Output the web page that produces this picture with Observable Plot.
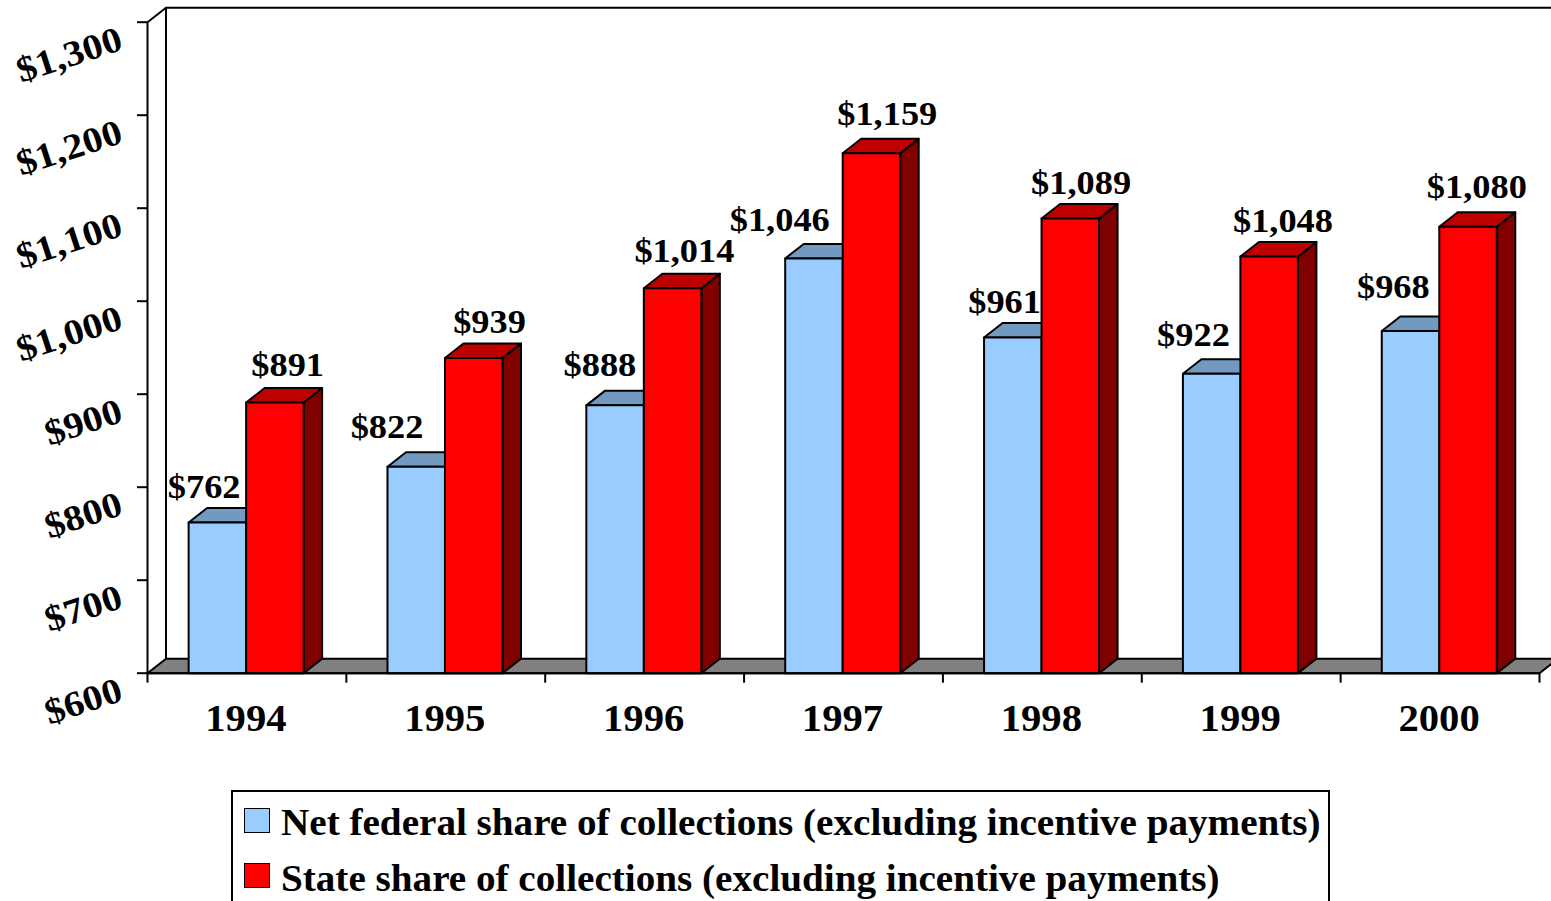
<!DOCTYPE html>
<html>
<head>
<meta charset="utf-8">
<script src="https://cdn.jsdelivr.net/npm/d3@7"></script>
<script src="https://cdn.jsdelivr.net/npm/@observablehq/plot@0.6"></script>
<style>
  html, body { margin: 0; padding: 0; background: #fff; overflow: hidden; width: 1551px; height: 901px; }
  #chart svg { display: block; }
  #legend {
    position: absolute; left: 231px; top: 790px; width: 1095px; height: 130px;
    border: 2px solid #000; box-sizing: content-box;
    font-family: "Liberation Serif", serif; font-weight: bold; color: #000;
  }
  .swatch { position: absolute; left: 11px; width: 24px; height: 23px; border: 1.5px solid #000; }
  .label { position: absolute; left: 48px; font-size: 38px; line-height: 40px; transform-origin: 0 50%; }
</style>
</head>
<body>
<div id="chart"></div>
<div id="legend"></div>
<script>
const years = [1994, 1995, 1996, 1997, 1998, 1999, 2000];
const federal = [762, 822, 888, 1046, 961, 922, 968];
const state = [891, 939, 1014, 1159, 1089, 1048, 1080];
const yTicks = [600, 700, 800, 900, 1000, 1100, 1200, 1300];
const boundaries = [1993.5, 1994.5, 1995.5, 1996.5, 1997.5, 1998.5, 1999.5, 2000.5];
const seriesNames = [
  "Net federal share of collections (excluding incentive payments)",
  "State share of collections (excluding incentive payments)"
];

// label nudges in screen pixels, separate from the values
const federalNudgeX = [-14, -30, -16, -35, -9, -19, -18];
const federalNudgeY = [25, 29, 29, 27, 24, 28, 33];
const stateNudgeX = [12, 15, 11, 15, 10, 13, 8];
const stateNudgeY = [27, 25, 26, 28, 24, 25, 29];

// one screen pixel in data units
const W = 1551, H = 790, ML = 147, MR = 12, MT = 21.7, MB = 117.3;
const unitX = 7 / (W - ML - MR), unitY = 700 / (H - MT - MB);
const depthX = 18.5 * unitX, depthY = 14.5 * unitY;
const barW = 57.5 * unitX, barShift = -0.8 * unitX;

const colors = {
  federal: {front: "#99CCFF", top: "#7299BF", side: "#4D6680"},
  state: {front: "#FF0000", top: "#BF0000", side: "#800000"},
  floor: "#808080"
};

const faces = [];
function face(id, fill, pts) {
  for (const [x, y] of [...pts, pts[0]]) faces.push({id, fill, x, y});
}
// floor
face("floor", colors.floor, [
  [1993.5, 600], [1993.5 + depthX, 600 + depthY],
  [2000.5 + depthX, 600 + depthY], [2000.5, 600]
]);
// bars
years.forEach((yr, i) => {
  const mid = yr + barShift;
  for (const [name, v, x0] of [["federal", federal[i], mid - barW], ["state", state[i], mid]]) {
    const c = colors[name], x1 = x0 + barW, key = name + yr;
    face(key + "side", c.side, [[x1, 600], [x1 + depthX, 600 + depthY], [x1 + depthX, v + depthY], [x1, v]]);
    face(key + "top", c.top, [[x0, v], [x0 + depthX, v + depthY], [x1 + depthX, v + depthY], [x1, v]]);
    face(key + "front", c.front, [[x0, 600], [x0, v], [x1, v], [x1, 600]]);
  }
});

const wall = [
  {x: 1993.5, y: 600}, {x: 1993.5, y: 1300},
  {x: 1993.5 + depthX, y: 1300 + depthY}, {x: 2000.5 + depthX, y: 1300 + depthY}
];
const backLeft = [{x: 1993.5 + depthX, y: 1300 + depthY}, {x: 1993.5 + depthX, y: 600 + depthY}];

const labels = years.flatMap((yr, i) => [
  {t: "$" + d3.format(",")(federal[i]), x: yr - barW / 2 + federalNudgeX[i] * unitX, y: federal[i] + federalNudgeY[i] * unitY},
  {t: "$" + d3.format(",")(state[i]), x: yr + barW / 2 + stateNudgeX[i] * unitX, y: state[i] + stateNudgeY[i] * unitY}
]);

const chart = Plot.plot({
  width: W, height: H,
  marginLeft: ML, marginRight: MR, marginTop: MT, marginBottom: MB,
  style: {fontFamily: "'Liberation Serif', serif", background: "#fff", color: "#000"},
  x: {type: "linear", domain: [1993.5, 2000.5], label: null},
  y: {domain: [600, 1300], label: null},
  marks: [
    Plot.line(backLeft, {x: "x", y: "y", stroke: "#000", strokeWidth: 2}),
    Plot.line(faces, {x: "x", y: "y", z: "id", fill: "fill", stroke: "#000", strokeWidth: 2, strokeLinejoin: "round"}),
    Plot.line(wall, {x: "x", y: "y", stroke: "#000", strokeWidth: 2}),
    Plot.ruleY([600], {stroke: "#000", strokeWidth: 2}),
    Plot.axisY({ticks: yTicks, anchor: "left", tickSize: 10, tickFormat: () => "", stroke: "#000", strokeWidth: 2, strokeOpacity: 1, label: null}),
    Plot.axisY({
      ticks: yTicks, anchor: "left", tickSize: 0, tickRotate: -18, tickPadding: 0,
      tickFormat: d => "$" + d3.format(",")(d),
      fontSize: 36, fontWeight: "bold", textAnchor: "end", lineAnchor: "bottom",
      fill: "#000", label: null, dx: -23, dy: 27
    }),
    Plot.axisX({ticks: boundaries, tickSize: 10, tickFormat: () => "", stroke: "#000", strokeWidth: 2, strokeOpacity: 1, label: null}),
    Plot.axisX({
      ticks: years, tickSize: 0, tickPadding: 58, tickFormat: d => String(d), dx: -1,
      fontSize: 38, fontWeight: "bold", fill: "#000", label: null
    }),
    Plot.text(labels, {x: "x", y: "y", text: "t", fontSize: 34, fontWeight: "bold", fill: "#000", lineAnchor: "bottom", textAnchor: "middle"})
  ]
});

// the reference is stretched horizontally: widen every glyph along its baseline
chart.querySelectorAll("text").forEach(t => {
  const x = +t.getAttribute("x") || 0, y = +t.getAttribute("y") || 0;
  const prior = t.getAttribute("transform") || "";
  t.removeAttribute("x"); t.removeAttribute("y");
  t.setAttribute("transform", `${prior} translate(${x},${y}) scale(${prior.includes("rotate") ? 1.1 : 1.07},1)`);
});
document.getElementById("chart").appendChild(chart);

const legend = d3.select("#legend");
const swatchTops = [16, 71], labelTops = [10, 66];
seriesNames.forEach((name, i) => {
  legend.append("div").attr("class", "swatch")
    .style("top", swatchTops[i] + "px")
    .style("background", i ? colors.state.front : colors.federal.front);
  legend.append("div").attr("class", "label")
    .style("top", labelTops[i] + "px")
    .style("transform", "scaleX(1.03)")
    .text(name);
});
</script>
</body>
</html>
